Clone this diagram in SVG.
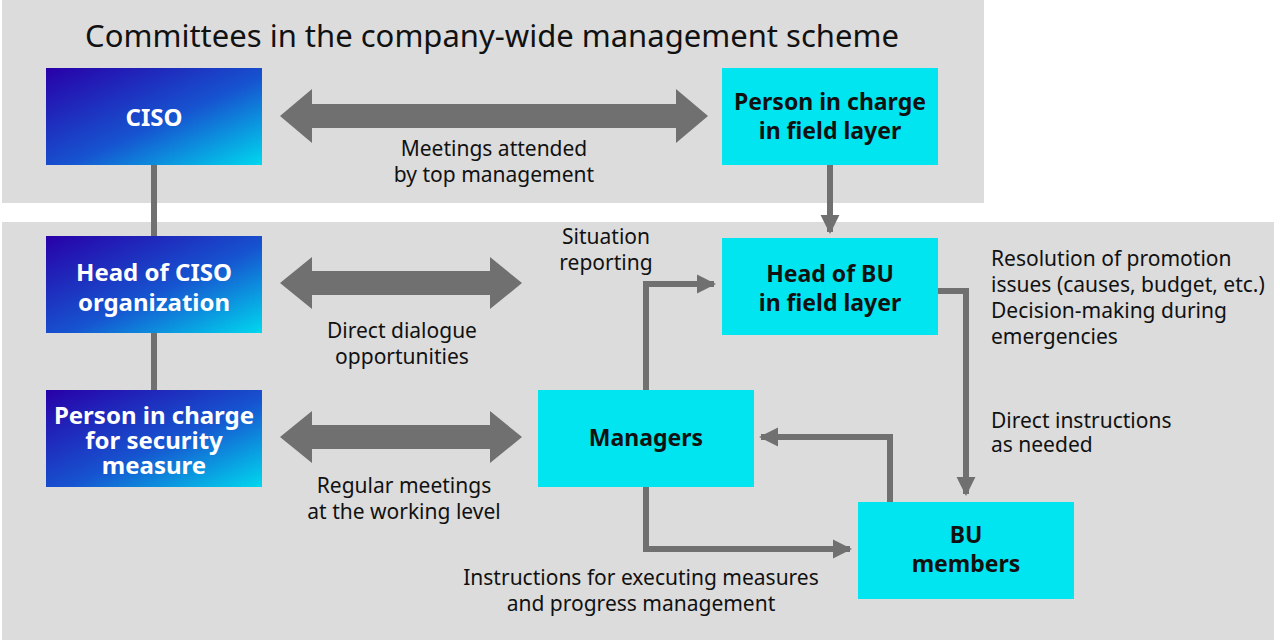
<svg xmlns="http://www.w3.org/2000/svg" width="1280" height="640" viewBox="0 0 1280 640">
<defs>
<linearGradient id="g" x1="0" y1="0" x2="1" y2="1"><stop offset="0" stop-color="#2800a8"/><stop offset="0.55" stop-color="#1654d0"/><stop offset="1" stop-color="#00d8ee"/></linearGradient>
<marker id="ah" viewBox="0 0 10 10" refX="9" refY="5" markerWidth="3.2" markerHeight="3.2" orient="auto"><path d="M0,0L10,5L0,10z" fill="#707070"/></marker>
<style>
.bg{fill:#dcdcdc}
.gb{fill:url(#g)}
.cb{fill:#00e5ef}
.wt{font-family:"Noto Sans",Lato,sans-serif;font-weight:bold;font-size:24px;fill:#fff;text-anchor:middle}
.bt{font-family:"Noto Sans",Lato,sans-serif;font-weight:bold;font-size:23px;fill:#111;text-anchor:middle}
.lt{font-family:"Noto Sans",Lato,sans-serif;font-size:21px;fill:#111}
.c{text-anchor:middle}
.ln{stroke:#707070;stroke-width:6;fill:none}
.da{fill:#707070}
</style>
</defs>
<rect class="bg" x="2" y="0" width="982" height="203"/>
<rect class="bg" x="2" y="222" width="1272" height="418"/>
<text x="492" y="47" font-family="'Noto Sans',Lato,sans-serif" font-size="31" fill="#111" text-anchor="middle">Committees in the company-wide management scheme</text>
<g id="connectors">
<path class="ln" d="M154,165V236M154,333V390"/>
<path class="ln" d="M830,165V232" marker-end="url(#ah)"/>
<path class="ln" d="M646,390V284H714" marker-end="url(#ah)"/>
<path class="ln" d="M938,291H966V494" marker-end="url(#ah)"/>
<path class="ln" d="M890,502V437H761" marker-end="url(#ah)"/>
<path class="ln" d="M646,487V549H850" marker-end="url(#ah)"/>
<path class="da" d="M280,116L312,89V104H676V89L708,116L676,143V128H312V143Z"/>
<path class="da" d="M280,283L312,257V271H490V257L522,283L490,309V295H312V309Z"/>
<path class="da" d="M280,437L312,411V425H490V411L522,437L490,463V449H312V463Z"/>
</g>
<g id="ciso"><rect class="gb" x="46" y="68" width="216" height="97"/><text class="wt" x="154" y="126">CISO</text></g>
<g id="headciso"><rect class="gb" x="46" y="236" width="216" height="97"/><text class="wt" x="154" y="281" font-size="23">Head of CISO</text><text class="wt" x="154" y="311" font-size="23">organization</text></g>
<g id="pcsec"><rect class="gb" x="46" y="390" width="216" height="97"/><text class="wt" x="154" y="424" font-size="19">Person in charge</text><text class="wt" x="154" y="449" font-size="19">for security</text><text class="wt" x="154" y="474" font-size="19">measure</text></g>
<g id="pcfield"><rect class="cb" x="722" y="68" width="216" height="97"/><text class="bt" x="830" y="110">Person in charge</text><text class="bt" x="830" y="139">in field layer</text></g>
<g id="headbu"><rect class="cb" x="722" y="238" width="216" height="97"/><text class="bt" x="830" y="282">Head of BU</text><text class="bt" x="830" y="311">in field layer</text></g>
<g id="managers"><rect class="cb" x="538" y="390" width="216" height="97"/><text class="bt" x="646" y="446">Managers</text></g>
<g id="bumembers"><rect class="cb" x="858" y="502" width="216" height="97"/><text class="bt" x="966" y="543">BU</text><text class="bt" x="966" y="572">members</text></g>
<g id="labels">
<text class="lt c" x="494" y="156">Meetings attended</text><text class="lt c" x="494" y="182">by top management</text>
<text class="lt c" x="402" y="338">Direct dialogue</text><text class="lt c" x="402" y="364">opportunities</text>
<text class="lt c" x="404" y="493">Regular meetings</text><text class="lt c" x="404" y="519">at the working level</text>
<text class="lt c" x="606" y="244">Situation</text><text class="lt c" x="606" y="270">reporting</text>
<text class="lt" x="991" y="266">Resolution of promotion</text><text class="lt" x="991" y="292">issues (causes, budget, etc.)</text><text class="lt" x="991" y="318">Decision-making during</text><text class="lt" x="991" y="344">emergencies</text>
<text class="lt" x="991" y="428">Direct instructions</text><text class="lt" x="991" y="452">as needed</text>
<text class="lt c" x="641" y="585">Instructions for executing measures</text><text class="lt c" x="641" y="611">and progress management</text>
</g>
</svg>
